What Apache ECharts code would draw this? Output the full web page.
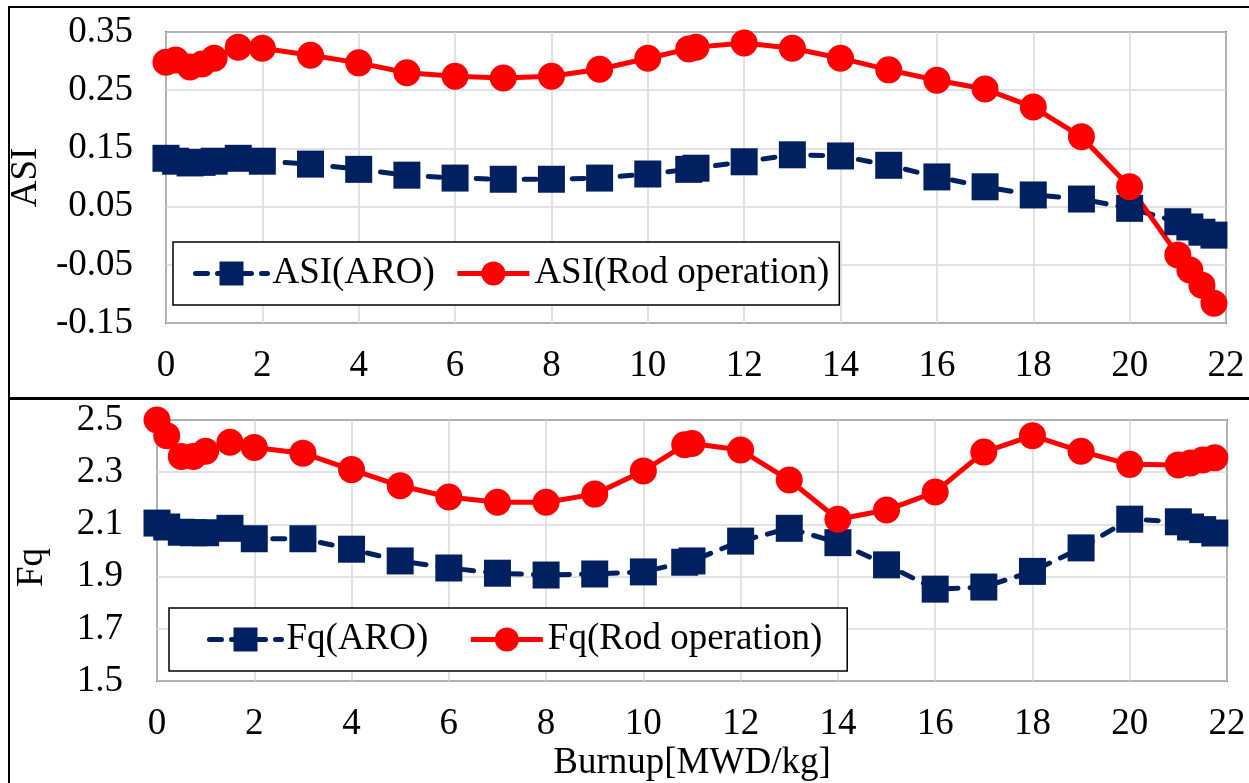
<!DOCTYPE html>
<html><head><meta charset="utf-8">
<script src="https://cdn.jsdelivr.net/npm/echarts@6/dist/echarts.min.js"></script>
<style>html,body{margin:0;padding:0;background:#fff}#c{width:1249px;height:783px}</style>
</head><body><div id="c"></div>
<script>
const burnup = [0,0.2,0.5,0.75,1,1.5,2,3,4,5,6,7,8,9,10,10.85,11,12,13,14,15,16,17,18,19,20,21,21.25,21.5,21.75];
const asiAro = [0.133,0.128,0.125,0.126,0.128,0.133,0.128,0.123,0.114,0.104,0.099,0.097,0.097,0.099,0.106,0.114,0.116,0.127,0.139,0.137,0.121,0.101,0.084,0.070,0.063,0.047,0.024,0.015,0.006,0.001];
const asiRod = [0.298,0.302,0.290,0.295,0.305,0.324,0.322,0.310,0.297,0.280,0.274,0.271,0.274,0.286,0.305,0.321,0.324,0.331,0.322,0.305,0.285,0.267,0.252,0.221,0.170,0.084,-0.033,-0.059,-0.085,-0.116];
const fqAro = [2.105,2.090,2.070,2.068,2.068,2.085,2.045,2.045,2.005,1.960,1.933,1.913,1.906,1.910,1.918,1.955,1.960,2.036,2.085,2.030,1.945,1.852,1.860,1.920,2.010,2.120,2.110,2.090,2.080,2.067];
const fqRod = [2.500,2.440,2.360,2.360,2.380,2.415,2.395,2.373,2.310,2.248,2.205,2.185,2.185,2.216,2.305,2.405,2.410,2.385,2.270,2.120,2.155,2.224,2.377,2.440,2.380,2.330,2.328,2.335,2.347,2.355];
const seriesNames = ['ASI(ARO)','ASI(Rod operation)','Fq(ARO)','Fq(Rod operation)'];
const xAxisName = 'Burnup[MWD/kg]';

const FONT = '"Liberation Serif", "Times New Roman", serif';
const FS = 37;
const BLUE = '#002060', RED = '#ff0000';
const pair = (ys) => burnup.map((x, i) => [x, ys[i]]);

const chart = echarts.init(document.getElementById('c'), null, {renderer: 'canvas'});
const xBase = {
  type: 'value', min: 0, max: 22, interval: 2,
  axisLine: {show: false}, axisTick: {show: false},
  axisLabel: {color: '#000', fontSize: FS, fontFamily: FONT, margin: 25},
  splitLine: {show: true, lineStyle: {color: '#d9d9d9', width: 1.5}}
};
const yBase = {
  type: 'value',
  axisLine: {show: false}, axisTick: {show: false},
  nameLocation: 'middle', nameRotate: 90,
  splitLine: {show: true, lineStyle: {color: '#d9d9d9', width: 1.5}}
};
const legendBase = {
  orient: 'horizontal', backgroundColor: '#fff', borderColor: '#000', borderWidth: 1.5,
  itemWidth: 72, itemHeight: 30,
  textStyle: {color: '#000', fontSize: FS, fontFamily: FONT},
  z: 10
};
const aroStyle = {
  type: 'line', symbol: 'rect', symbolSize: 27, clip: false,
  itemStyle: {color: BLUE},
  lineStyle: {color: BLUE, width: 5, type: [12, 12], cap: 'round'}
};
const rodStyle = {
  type: 'line', symbol: 'circle', symbolSize: 27, clip: false,
  itemStyle: {color: RED},
  lineStyle: {color: RED, width: 5}
};
const aroLegend = {itemStyle: {color: BLUE}, lineStyle: {color: BLUE, width: 5, type: [12, 10], cap: 'round'}};
const rodLegend = {itemStyle: {color: RED}, lineStyle: {color: RED, width: 5}};

chart.setOption({
  animation: false,
  backgroundColor: '#fff',
  grid: [
    {left: 159, top: 32, width: 1067, height: 291, show: true, borderColor: '#000', borderWidth: 1.5, backgroundColor: 'transparent'},
    {left: 157, top: 420, width: 1070, height: 261, show: true, borderColor: '#000', borderWidth: 1.5, backgroundColor: 'transparent'}
  ],
  xAxis: [
    Object.assign({}, xBase, {gridIndex: 0}),
    Object.assign({}, xBase, {gridIndex: 1, name: xAxisName, nameLocation: 'middle', nameGap: 64,
      nameTextStyle: {color: '#000', fontSize: FS, fontFamily: FONT}})
  ],
  yAxis: [
    Object.assign({}, yBase, {gridIndex: 0, min: -0.15, max: 0.35, interval: 0.1, name: 'ASI', nameGap: 106,
      nameTextStyle: {color: '#000', fontSize: FS, fontFamily: FONT},
      axisLabel: {color: '#000', fontSize: FS, fontFamily: FONT, margin: 33, formatter: v => v.toFixed(2)}}),
    Object.assign({}, yBase, {gridIndex: 1, min: 1.5, max: 2.5, interval: 0.2, name: 'Fq', nameGap: 106,
      nameTextStyle: {color: '#000', fontSize: FS, fontFamily: FONT, padding: [0, 34, 0, 0]},
      axisLabel: {color: '#000', fontSize: FS, fontFamily: FONT, margin: 34, formatter: v => v.toFixed(1)}})
  ],
  legend: [
    Object.assign({}, legendBase, {left: 173, top: 242, itemGap: 20, padding: [13, 10, 13, 20],
      data: [Object.assign({name: seriesNames[0]}, aroLegend), Object.assign({name: seriesNames[1]}, rodLegend)]}),
    Object.assign({}, legendBase, {left: 169, top: 608, itemGap: 40, padding: [13, 25, 13, 38],
      data: [Object.assign({name: seriesNames[2]}, aroLegend), Object.assign({name: seriesNames[3]}, rodLegend)]})
  ],
  graphic: [
    {type: 'rect', z: 100, silent: true, shape: {x: 9, y: 7, width: 1260, height: 391}, style: {fill: 'none', stroke: '#000', lineWidth: 2}},
    {type: 'rect', z: 100, silent: true, shape: {x: 9, y: 399, width: 1260, height: 420}, style: {fill: 'none', stroke: '#000', lineWidth: 2}}
  ],
  series: [
    Object.assign({}, aroStyle, {name: seriesNames[0], xAxisIndex: 0, yAxisIndex: 0, data: pair(asiAro)}),
    Object.assign({}, rodStyle, {name: seriesNames[1], xAxisIndex: 0, yAxisIndex: 0, data: pair(asiRod)}),
    Object.assign({}, aroStyle, {name: seriesNames[2], xAxisIndex: 1, yAxisIndex: 1, data: pair(fqAro)}),
    Object.assign({}, rodStyle, {name: seriesNames[3], xAxisIndex: 1, yAxisIndex: 1, data: pair(fqRod)})
  ]
});
</script></body></html>
